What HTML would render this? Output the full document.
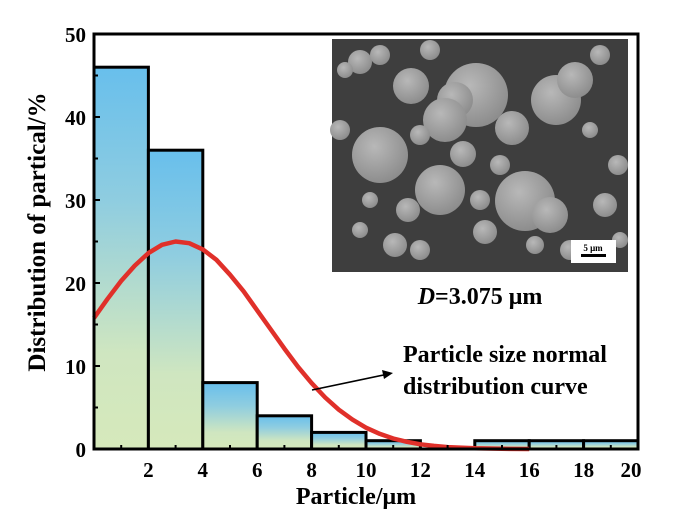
<!DOCTYPE html>
<html><head><meta charset="utf-8"><style>
html,body{margin:0;padding:0;background:#fff;}
svg{display:block;}
text{font-family:"Liberation Serif",serif;font-weight:bold;fill:#000;}
</style></head><body>
<svg width="688" height="517" viewBox="0 0 688 517" xmlns="http://www.w3.org/2000/svg">
<defs>
<linearGradient id="g" x1="0" y1="0" x2="0" y2="1">
<stop offset="0" stop-color="#68bfec"/>
<stop offset="0.35" stop-color="#8fcde0"/>
<stop offset="0.75" stop-color="#cfe6c0"/>
<stop offset="1" stop-color="#d6e9bb"/>
</linearGradient>
<radialGradient id="s" cx="0.4" cy="0.35" r="0.7">
<stop offset="0" stop-color="#b8b8b8"/>
<stop offset="1" stop-color="#8a8a8a"/>
</radialGradient>
</defs>
<rect x="332" y="39" width="296" height="233" fill="#3e3e3e"/>
<g fill="url(#s)">
<circle cx="476" cy="95" r="32"/><circle cx="455" cy="100" r="18"/><circle cx="445" cy="120" r="22"/>
<circle cx="411" cy="86" r="18"/><circle cx="380" cy="155" r="28"/><circle cx="440" cy="190" r="25"/>
<circle cx="525" cy="201" r="30"/><circle cx="512" cy="128" r="17"/><circle cx="463" cy="154" r="13"/>
<circle cx="556" cy="100" r="25"/><circle cx="575" cy="80" r="18"/><circle cx="360" cy="62" r="12"/>
<circle cx="380" cy="55" r="10"/><circle cx="345" cy="70" r="8"/><circle cx="340" cy="130" r="10"/>
<circle cx="605" cy="205" r="12"/><circle cx="618" cy="165" r="10"/><circle cx="590" cy="130" r="8"/>
<circle cx="408" cy="210" r="12"/><circle cx="395" cy="245" r="12"/><circle cx="420" cy="250" r="10"/>
<circle cx="480" cy="200" r="10"/><circle cx="485" cy="232" r="12"/><circle cx="550" cy="215" r="18"/>
<circle cx="500" cy="165" r="10"/><circle cx="420" cy="135" r="10"/><circle cx="430" cy="50" r="10"/>
<circle cx="600" cy="55" r="10"/><circle cx="570" cy="250" r="10"/><circle cx="620" cy="240" r="8"/>
<circle cx="360" cy="230" r="8"/><circle cx="370" cy="200" r="8"/><circle cx="535" cy="245" r="9"/>
</g>
<rect x="571" y="240" width="45" height="23" fill="#fff"/>
<text x="593" y="251" font-size="9" text-anchor="middle">5 μm</text>
<rect x="581" y="254" width="25" height="3" fill="#000"/>
<g fill="url(#g)" stroke="#000" stroke-width="3">
<rect x="94" y="67.2" width="54.4" height="381.8"/>
<rect x="148.4" y="150.2" width="54.4" height="298.8"/>
<rect x="202.8" y="382.6" width="54.4" height="66.4"/>
<rect x="257.2" y="415.8" width="54.4" height="33.2"/>
<rect x="311.6" y="432.4" width="54.4" height="16.6"/>
<rect x="366" y="440.7" width="54.4" height="8.3"/>
<rect x="474.8" y="440.7" width="54.4" height="8.3"/>
<rect x="529.2" y="440.7" width="54.4" height="8.3"/>
<rect x="583.6" y="440.7" width="54.4" height="8.3"/>
</g>
<polyline fill="none" stroke="#e0302a" stroke-width="4.5" stroke-linejoin="round" points="94,317.9 107.6,298.8 121.2,280.9 134.8,265.6 148.4,253.1 162,244.8 175.6,241.5 189.2,243.2 202.8,249.4 216.4,259.8 230,274.7 243.6,291.3 257.2,310.4 270.8,329.5 284.4,348.6 298,366.8 311.6,383.1 325.2,397.5 338.8,409.7 352.4,419.6 366,427.7 379.6,433.8 393.2,438.5 406.8,441.8 420.4,444.3 434,445.9 447.6,447.1 474.8,448.3 502,448.8 529.2,449"/>
<rect x="94" y="34" width="544" height="415" fill="none" stroke="#000" stroke-width="3"/>
<g stroke="#000" stroke-width="2">
<line x1="121.2" y1="449" x2="121.2" y2="445"/><line x1="175.6" y1="449" x2="175.6" y2="445"/>
<line x1="230" y1="449" x2="230" y2="445"/><line x1="284.4" y1="449" x2="284.4" y2="445"/>
<line x1="338.8" y1="449" x2="338.8" y2="445"/><line x1="393.2" y1="449" x2="393.2" y2="445"/>
<line x1="447.6" y1="449" x2="447.6" y2="445"/><line x1="502" y1="449" x2="502" y2="445"/>
<line x1="556.4" y1="449" x2="556.4" y2="445"/><line x1="610.8" y1="449" x2="610.8" y2="445"/>
<line x1="94" y1="407.5" x2="98" y2="407.5"/><line x1="94" y1="324.5" x2="98" y2="324.5"/>
<line x1="94" y1="241.5" x2="98" y2="241.5"/><line x1="94" y1="158.5" x2="98" y2="158.5"/>
<line x1="94" y1="75.5" x2="98" y2="75.5"/>
<line x1="94" y1="366" x2="100" y2="366"/><line x1="94" y1="283" x2="100" y2="283"/>
<line x1="94" y1="200" x2="100" y2="200"/><line x1="94" y1="117" x2="100" y2="117"/>
</g>
<line x1="312" y1="390" x2="386" y2="374.5" stroke="#000" stroke-width="1.6"/>
<polygon points="393,373 382,370 384,379" fill="#000"/>
<g font-size="21" text-anchor="end">
<text x="86" y="457">0</text><text x="86" y="374">10</text><text x="86" y="291">20</text>
<text x="86" y="208">30</text><text x="86" y="125">40</text><text x="86" y="42">50</text>
</g>
<g font-size="21" text-anchor="middle">
<text x="148.4" y="477">2</text><text x="202.8" y="477">4</text><text x="257.2" y="477">6</text>
<text x="311.6" y="477">8</text><text x="366" y="477">10</text><text x="420.4" y="477">12</text>
<text x="474.8" y="477">14</text><text x="529.2" y="477">16</text><text x="583.6" y="477">18</text>
<text x="631" y="477">20</text>
</g>
<text x="356" y="504" font-size="24" text-anchor="middle">Particle/μm</text>
<text transform="translate(45,232) rotate(-90)" font-size="25" text-anchor="middle">Distribution of partical/%</text>
<text x="480" y="304" font-size="24" text-anchor="middle"><tspan font-style="italic">D</tspan>=3.075 μm</text>
<text x="403" y="362" font-size="24">Particle size normal</text>
<text x="403" y="394" font-size="24">distribution curve</text>
</svg>
</body></html>
